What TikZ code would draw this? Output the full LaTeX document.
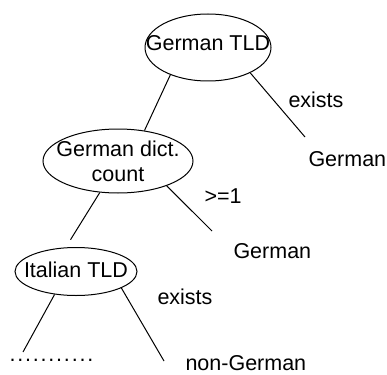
\documentclass[tikz,border=0pt]{standalone}
\usepackage{fontspec}
\setmainfont{Liberation Sans}
\usetikzlibrary{shapes.geometric}

\begin{document}
\begin{tikzpicture}[x=1pt,y=-1pt,line width=1pt,
  every node/.style={font=\fontsize{21.5}{25}\selectfont},
  test/.style={ellipse,draw,inner sep=0pt},
  leaf/.style={anchor=base west,inner sep=0pt}]
\useasboundingbox (0,0) rectangle (387,374);
\node[test,minimum width=126,minimum height=67,label={[yshift=4pt]center:German TLD}] (tld) at (208,47.5) {};
\node[test,minimum width=150,minimum height=64,label={[align=center]center:German dict.\\count}] (dict) at (118,161) {};
\node[test,minimum width=122,minimum height=48,label={[yshift=2pt]center:Italian TLD}] (ita) at (76,271.5) {};
\node[leaf] (ex1) at (288,107.5) {exists};
\node[leaf] (g1) at (308,166) {German};
\node[leaf] (ge1) at (204,203) {>=1};
\node[leaf] (g2) at (233,258) {German};
\node[leaf] (ex2) at (157,304) {exists};
\node[leaf] (ng) at (185,370) {non-German};
\node[leaf] (dots) at (9,361) {\addfontfeature{LetterSpace=8.4}...........};
\coordinate (g1tip) at (305,137);
\coordinate (g2tip) at (212,231);
\coordinate (dottip) at (23,352);
\coordinate (ngtip) at (164,361);
\draw (tld.216)--(dict.49);
\draw (tld.329)--(g1tip);
\draw[shorten >=9pt] (dict.240)--(ita.113);
\draw (dict.333)--(g2tip);
\draw (ita.227)--(dottip);
\draw (ita.340)--(ngtip);
\end{tikzpicture}
\end{document}
